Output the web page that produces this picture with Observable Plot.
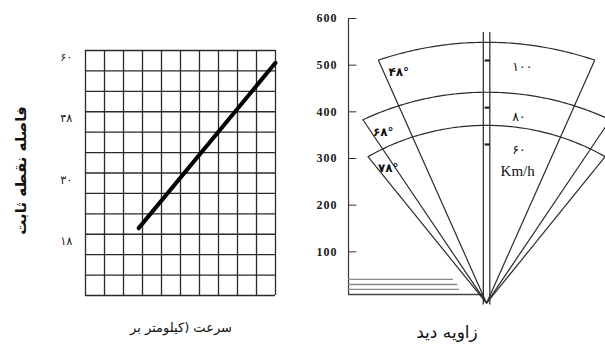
<!DOCTYPE html>
<html><head><meta charset="utf-8">
<script src="https://cdn.jsdelivr.net/npm/d3@7"></script>
<script src="https://cdn.jsdelivr.net/npm/@observablehq/plot@0.6"></script>
<style>
html,body{margin:0;padding:0;background:#fff;overflow:hidden}
#root{position:relative;width:605px;height:345px;font-family:"DejaVu Sans",sans-serif;color:#111}
.lbl{position:absolute;white-space:nowrap;text-align:center;direction:rtl;line-height:1}
#right g[aria-label="y-axis tick label"]{letter-spacing:1px}
</style></head><body><div id="root"></div>
<script>
// ---------- Left chart (grid with speed / distance line) ----------
const gridCols = 10;
const gridRows = 12;
const distanceTickRows = [12, 9, 6, 3];
const distanceTickLabels = ["۶۰", "۴۸", "۳۰", "۱۸"];
const lineCol = [2.8, 10];
const lineRow = [3.3, 11.4];
const leftYTitle = "فاصله نقطه ثابت";
const leftXTitle = "سرعت (کیلومتر بر";

// ---------- Right chart (cone of vision) ----------
const fanSpeeds = ["۱۰۰", "۸۰", "۶۰"];
const fanAngles = [48, 68, 78];
const fanAngleLabels = ["۴۸°", "۶۸°", "۷۸°"];
const arcTop = [559, 452, 381];
const arcCorner = [570, 474, 404];
const distanceTicks = [100, 200, 300, 400, 500, 600];
const baseLinesY = [41, 30, 19.5, 8.5];
const baseLinesEnd = [-71, -62, -58, -6];
const poleMarks = [510, 409, 330];
const unitLabel = "Km/h";
const rightTitle = "زاویه دید";

const root = document.getElementById("root");

// Left plot
const lineData = lineCol.map((c, i) => ({c, r: lineRow[i]}));
const rowLabel = new Map(distanceTickRows.map((r, i) => [r, distanceTickLabels[i]]));
const left = Plot.plot({
  width: 300, height: 345,
  marginLeft: 85, marginRight: 25, marginTop: 50, marginBottom: 50,
  x: {domain: [0, gridCols], axis: null, label: null},
  y: {domain: [0, gridRows], axis: null, label: null},
  style: {background: "transparent", fontFamily: "DejaVu Sans", fontSize: "11px", color: "#222"},
  marks: [
    Plot.gridX(d3.range(0, gridCols + 1), {stroke: "#2a2a2a", strokeOpacity: 1, strokeWidth: 1.3}),
    Plot.gridY(d3.range(0, gridRows + 1), {stroke: "#2a2a2a", strokeOpacity: 1, strokeWidth: 1.3}),
    Plot.axisY(distanceTickRows, {anchor: "left", label: null, tickSize: 0, tickPadding: 13, dy: 7, fontSize: 11.5,
      tickFormat: d => rowLabel.get(d)}),
    Plot.line(lineData, {x: "c", y: "r", stroke: "#000", strokeWidth: 4})
  ]
});
left.style.position = "absolute"; left.style.left = "0px"; left.style.top = "0px";
root.appendChild(left);

// Right plot
const xMin = -296, xMax = 255, vy = -10;
const rad = a => a * Math.PI / 180;
const rays = [], arcs = [], corners = [];
fanAngles.forEach((a, i) => {
  const h = rad(a / 2), d = arcCorner[i], T = arcTop[i];
  const cy = vy + d * Math.cos(h), cx = d * Math.sin(h);
  rays.push({x1: 0, y1: vy, x2: -cx, y2: cy}, {x1: 0, y1: vy, x2: cx, y2: cy});
  corners.push({x: -cx, y: cy, label: fanAngleLabels[i]});
  const k = (T * T - d * d) / (2 * (T - d * Math.cos(h)));
  const R = T - k;
  const phi = Math.asin(cx / R);
  for (let j = 0; j <= 80; j++) {
    const t = -phi + 2 * phi * j / 80;
    arcs.push({s: i, x: R * Math.sin(t), y: vy + k + R * Math.cos(t)});
  }
});
const speedLabels = fanSpeeds.map((s, i) => ({label: s, y: arcTop[i] - 63}));
const baseLines = baseLinesY.map((y, i) => ({y, x2: baseLinesEnd[i], last: i === baseLinesY.length - 1}));

const right = Plot.plot({
  width: 305, height: 345,
  marginLeft: 48, marginRight: 0, marginTop: 18, marginBottom: 47,
  x: {domain: [xMin, xMax], axis: null, label: null},
  y: {domain: [0, 600], axis: null, label: null},
  style: {background: "transparent", fontFamily: "Liberation Serif", fontSize: "12px", color: "#1a1a1a"},
  marks: [
    Plot.axisY(distanceTicks, {anchor: "left", label: null, tickSize: 0, tickPadding: 11, fontSize: 12,
      fontWeight: "bold", fontFamily: "Liberation Serif"}),
    Plot.ruleY(distanceTicks, {y: d => d, x1: xMin, x2: xMin + 18, stroke: "#333", strokeWidth: 1}),
    Plot.ruleX([xMin], {y1: 8.5, y2: 600, stroke: "#333", strokeWidth: 1.2}),
    Plot.ruleY(baseLines, {y: "y", x1: xMin, x2: "x2", stroke: d => d.last ? "#444" : "#888", strokeWidth: 1.4}),
    Plot.ruleX([-7, 7], {y1: vy - 4, y2: 570, stroke: "#222", strokeWidth: 1.2}),
    Plot.ruleY(poleMarks, {y: d => d, x1: -3, x2: 8, stroke: "#222", strokeWidth: 2.2}),
    Plot.link(rays, {x1: "x1", y1: "y1", x2: "x2", y2: "y2", stroke: "#2a2a2a", strokeWidth: 1.2}),
    Plot.line(arcs, {x: "x", y: "y", z: "s", stroke: "#2a2a2a", strokeWidth: 1.2}),
    Plot.text(corners, {x: "x", y: "y", text: "label", dx: 10, dy: 12, textAnchor: "start",
      fontFamily: "DejaVu Sans", fontSize: 12, fontWeight: "bold", fill: "#111"}),
    Plot.text(speedLabels, {x: 55, y: "y", text: "label", textAnchor: "start",
      fontFamily: "DejaVu Sans", fontSize: 12.5, fill: "#111"}),
    Plot.text([unitLabel], {x: 30, y: speedLabels[2].y, dy: 21, text: d => d, textAnchor: "start",
      fontFamily: "Liberation Serif", fontSize: 15, fill: "#111"})
  ]
});
right.id = "right";
right.style.position = "absolute"; right.style.left = "300px"; right.style.top = "0px";
root.appendChild(right);

// Titles
function addLabel(text, cx, cy, size, weight, rotate) {
  const el = document.createElement("div");
  el.className = "lbl";
  el.textContent = text;
  el.style.fontSize = size + "px";
  el.style.fontWeight = weight;
  el.style.width = "220px";
  el.style.left = (cx - 110) + "px";
  el.style.top = (cy - size / 2) + "px";
  if (rotate) el.style.transform = "rotate(-90deg)";
  root.appendChild(el);
}
addLabel(leftYTitle, 21, 170, 15, "bold", true);
addLabel(leftXTitle, 181, 327, 13, "normal", false);
addLabel(rightTitle, 447, 332, 17, "normal", false);
</script></body></html>
